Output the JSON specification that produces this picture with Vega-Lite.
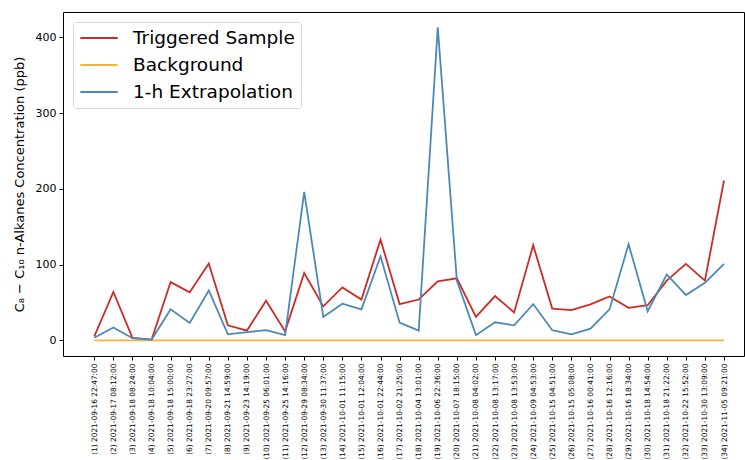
{
  "$schema": "https://vega.github.io/schema/vega-lite/v6.json",
  "width": 681,
  "height": 344,
  "autosize": {"type": "none"},
  "padding": {"left": 63, "top": 12, "right": 1, "bottom": 104},
  "background": "white",
  "config": {
    "font": "DejaVu Sans",
    "view": {"stroke": "black", "strokeWidth": 1},
    "axis": {"grid": false, "domain": false, "tickColor": "black", "labelColor": "black", "titleColor": "black", "tickSize": 4}
  },
  "data": {
    "values": [
      {"sample": "(1) 2021-09-16 22:47:00", "Triggered Sample": 5.5, "Background": 0, "1-h Extrapolation": 3.5},
      {"sample": "(2) 2021-09-17 08:12:00", "Triggered Sample": 64, "Background": 0, "1-h Extrapolation": 17},
      {"sample": "(3) 2021-09-18 08:24:00", "Triggered Sample": 3.5, "Background": 0, "1-h Extrapolation": 3},
      {"sample": "(4) 2021-09-18 10:04:00", "Triggered Sample": 1, "Background": 0, "1-h Extrapolation": 1},
      {"sample": "(5) 2021-09-18 15:00:00", "Triggered Sample": 77, "Background": 0, "1-h Extrapolation": 41},
      {"sample": "(6) 2021-09-18 23:27:00", "Triggered Sample": 63.5, "Background": 0, "1-h Extrapolation": 23},
      {"sample": "(7) 2021-09-20 09:57:00", "Triggered Sample": 101.5, "Background": 0, "1-h Extrapolation": 66},
      {"sample": "(8) 2021-09-21 14:59:00", "Triggered Sample": 20, "Background": 0, "1-h Extrapolation": 8},
      {"sample": "(9) 2021-09-23 14:19:00", "Triggered Sample": 13, "Background": 0, "1-h Extrapolation": 11},
      {"sample": "(10) 2021-09-25 06:01:00", "Triggered Sample": 52.5, "Background": 0, "1-h Extrapolation": 13.5},
      {"sample": "(11) 2021-09-25 14:16:00", "Triggered Sample": 12, "Background": 0, "1-h Extrapolation": 7},
      {"sample": "(12) 2021-09-29 08:34:00", "Triggered Sample": 89, "Background": 0, "1-h Extrapolation": 196},
      {"sample": "(13) 2021-09-30 11:37:00", "Triggered Sample": 45, "Background": 0, "1-h Extrapolation": 31},
      {"sample": "(14) 2021-10-01 11:15:00", "Triggered Sample": 70, "Background": 0, "1-h Extrapolation": 48.5},
      {"sample": "(15) 2021-10-01 12:04:00", "Triggered Sample": 54, "Background": 0, "1-h Extrapolation": 41},
      {"sample": "(16) 2021-10-01 22:44:00", "Triggered Sample": 133, "Background": 0, "1-h Extrapolation": 111},
      {"sample": "(17) 2021-10-02 21:25:00", "Triggered Sample": 48, "Background": 0, "1-h Extrapolation": 23.5},
      {"sample": "(18) 2021-10-04 13:01:00", "Triggered Sample": 54, "Background": 0, "1-h Extrapolation": 13},
      {"sample": "(19) 2021-10-06 22:36:00", "Triggered Sample": 78, "Background": 0, "1-h Extrapolation": 413},
      {"sample": "(20) 2021-10-07 18:15:00", "Triggered Sample": 82, "Background": 0, "1-h Extrapolation": 79},
      {"sample": "(21) 2021-10-08 04:02:00", "Triggered Sample": 31, "Background": 0, "1-h Extrapolation": 7},
      {"sample": "(22) 2021-10-08 13:17:00", "Triggered Sample": 58.5, "Background": 0, "1-h Extrapolation": 24},
      {"sample": "(23) 2021-10-08 13:53:00", "Triggered Sample": 37, "Background": 0, "1-h Extrapolation": 20},
      {"sample": "(24) 2021-10-09 04:53:00", "Triggered Sample": 125.5, "Background": 0, "1-h Extrapolation": 48},
      {"sample": "(25) 2021-10-15 04:51:00", "Triggered Sample": 42, "Background": 0, "1-h Extrapolation": 13.5},
      {"sample": "(26) 2021-10-15 05:08:00", "Triggered Sample": 40, "Background": 0, "1-h Extrapolation": 8},
      {"sample": "(27) 2021-10-16 00:41:00", "Triggered Sample": 47.5, "Background": 0, "1-h Extrapolation": 15.5},
      {"sample": "(28) 2021-10-16 12:16:00", "Triggered Sample": 58, "Background": 0, "1-h Extrapolation": 41},
      {"sample": "(29) 2021-10-16 18:34:00", "Triggered Sample": 43, "Background": 0, "1-h Extrapolation": 127},
      {"sample": "(30) 2021-10-18 14:54:00", "Triggered Sample": 46.5, "Background": 0, "1-h Extrapolation": 38.5},
      {"sample": "(31) 2021-10-18 21:22:00", "Triggered Sample": 79, "Background": 0, "1-h Extrapolation": 87},
      {"sample": "(32) 2021-10-22 15:52:00", "Triggered Sample": 101, "Background": 0, "1-h Extrapolation": 60},
      {"sample": "(33) 2021-10-30 13:09:00", "Triggered Sample": 79, "Background": 0, "1-h Extrapolation": 76},
      {"sample": "(34) 2021-11-05 09:21:00", "Triggered Sample": 211, "Background": 0, "1-h Extrapolation": 101}
    ]
  },
  "transform": [
    {"fold": ["Triggered Sample", "Background", "1-h Extrapolation"], "as": ["series", "ppb"]}
  ],
  "mark": {"type": "line", "strokeWidth": 1.8, "clip": true},
  "encoding": {
    "x": {
      "field": "sample",
      "type": "ordinal",
      "sort": null,
      "scale": {"type": "point", "range": [31.3, 661], "padding": 0},
      "axis": {"title": null, "labelAngle": 270, "labelAlign": "right", "labelBaseline": "middle", "labelFontSize": 7.4, "labelPadding": 3, "labelOverlap": false, "labelLimit": 0}
    },
    "y": {
      "field": "ppb",
      "type": "quantitative",
      "scale": {"domain": [-20.5, 433.3], "nice": false, "zero": false},
      "axis": {"values": [0, 100, 200, 300, 400], "labelFontSize": 11, "labelPadding": 3, "title": "C₈ − C₁₀ n-Alkanes Concentration (ppb)", "titleFontSize": 13, "titleFontWeight": "normal", "titlePadding": 9}
    },
    "color": {
      "field": "series",
      "type": "nominal",
      "scale": {"domain": ["Triggered Sample", "Background", "1-h Extrapolation"], "range": ["#cc2b26", "#f4b43c", "#4d89b6"]},
      "legend": {
        "title": null,
        "orient": "none",
        "legendX": 10,
        "legendY": 10,
        "symbolType": "stroke",
        "symbolSize": 1400,
        "symbolStrokeWidth": 1.8,
        "clipHeight": 20,
        "labelFontSize": 18.5,
        "labelLimit": 400,
        "labelColor": "black",
        "labelOffset": 14,
        "rowPadding": 7,
        "padding": 6,
        "fillColor": "white",
        "strokeColor": "#d6d6d6",
        "cornerRadius": 3
      }
    }
  }
}
